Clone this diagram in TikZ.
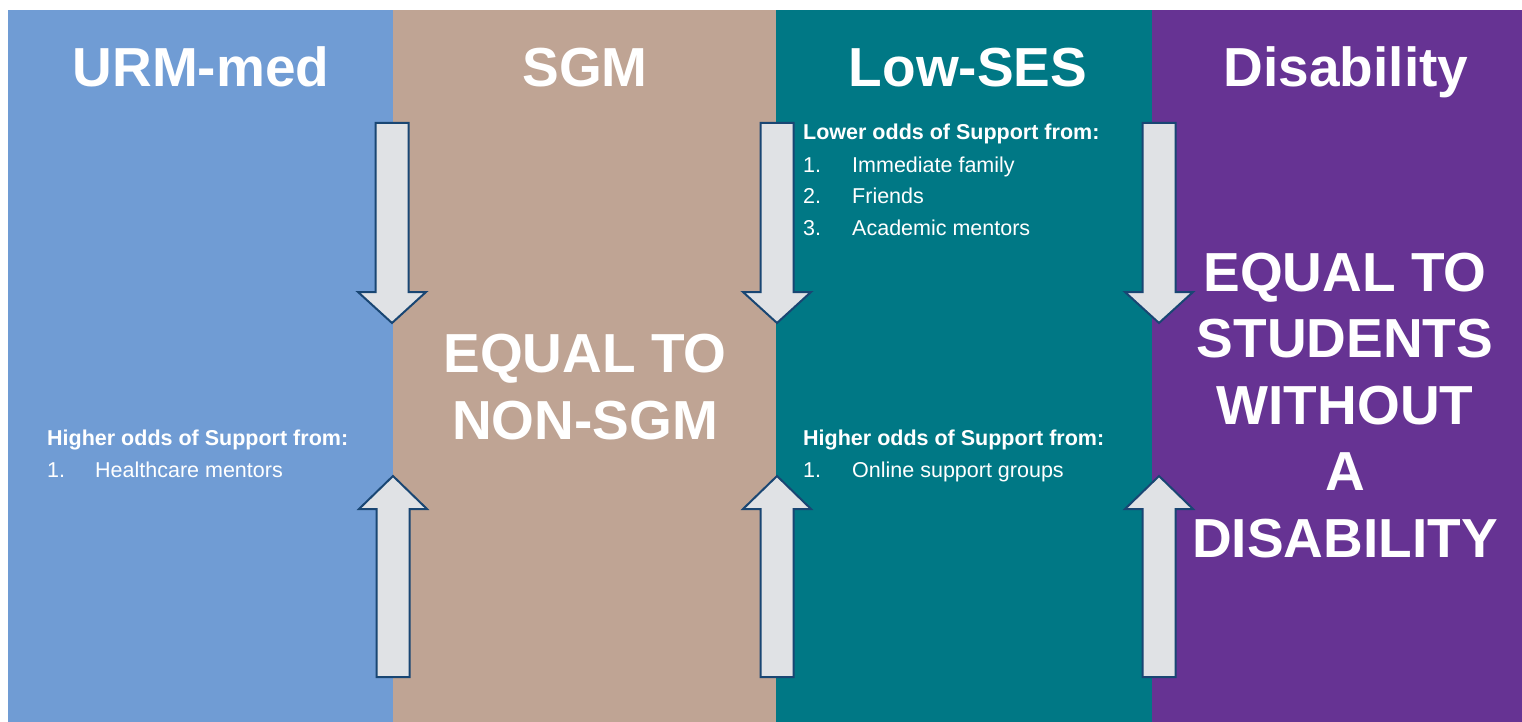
\documentclass[tikz,border=0pt]{standalone}
\usepackage{fontspec}
\setmainfont{Liberation Sans}
\usetikzlibrary{positioning}
\definecolor{urmblue}{RGB}{112,156,212}
\definecolor{sgmtan}{RGB}{191,164,148}
\definecolor{sesteal}{RGB}{0,120,133}
\definecolor{dispurple}{RGB}{102,51,147}
\definecolor{arrowgray}{RGB}{224,226,229}
\definecolor{arrowline}{RGB}{25,70,115}
\tikzset{
    column/.style={
                draw=none,
                inner sep=0pt,
                anchor=north west,
                minimum height=712pt
            },
        heading/.style={
                text=white,
                anchor=base,
                inner sep=0pt,
                font=\fontsize{55}{66}\selectfont\bfseries
            },
        verdict/.style={
                text=white,
                anchor=base,
                align=center,
                inner sep=0pt,
                font=\fontsize{55}{66.5}\selectfont\bfseries
            },
        listhead/.style={
                text=white,
                anchor=base west,
                inner sep=0pt,
                font=\fontsize{21.5}{26}\selectfont\bfseries
            },
        listitem/.style={
                text=white,
                anchor=base west,
                inner sep=0pt,
                font=\fontsize{21.5}{26}\selectfont
            },
        bigarrow/.style={
                fill=arrowgray,
                draw=arrowline,
                line width=2pt,
                line join=miter
            },
}

\begin{document}
\begin{tikzpicture}[x=1pt,y=-1pt]
  \useasboundingbox (0,0) rectangle (1522,722);
  % Columns
  \node[column,fill=urmblue,minimum width=385pt] (urm) at (8,10) {};
  \node[column,fill=sgmtan,minimum width=383pt] (sgm) at (393,10) {};
  \node[column,fill=sesteal,minimum width=376pt] (ses) at (776,10) {};
  \node[column,fill=dispurple,minimum width=370pt] (dis) at (1152,10) {};
  % Headings
  \node[heading] (urmtitle) at (201,87) {URM-med};
  \node[heading] (sgmtitle) at (585,87) {SGM};
  \node[heading] (sestitle) at (968,87) {Low-SES};
  \node[heading] (distitle) at (1346,87) {Disability};
  % Arrows down
  \draw[bigarrow] (375.5,123) -- ++(33,0) -- ++(0,169) -- ++(17.5,0) -- ++(-34,31) -- ++(-34,-31) -- ++(17.5,0) -- cycle;
  \draw[bigarrow] (760.5,123) -- ++(33,0) -- ++(0,169) -- ++(17.5,0) -- ++(-34,31) -- ++(-34,-31) -- ++(17.5,0) -- cycle;
  \draw[bigarrow] (1142.5,123) -- ++(33,0) -- ++(0,169) -- ++(17.5,0) -- ++(-34,31) -- ++(-34,-31) -- ++(17.5,0) -- cycle;
  % Arrows up
  \draw[bigarrow] (376.5,677) -- ++(33,0) -- ++(0,-168) -- ++(17.5,0) -- ++(-34,-33) -- ++(-34,33) -- ++(17.5,0) -- cycle;
  \draw[bigarrow] (760.5,677) -- ++(33,0) -- ++(0,-168) -- ++(17.5,0) -- ++(-34,-33) -- ++(-34,33) -- ++(17.5,0) -- cycle;
  \draw[bigarrow] (1142.5,677) -- ++(33,0) -- ++(0,-168) -- ++(17.5,0) -- ++(-34,-33) -- ++(-34,33) -- ++(17.5,0) -- cycle;
  % URM-med
  \node[listhead] (urmhigher) at (47,445) {Higher odds of Support from:};
  \node[listitem] (urmnum1) at (47,477) {1.};
  \node[listitem] (urmitem1) at (95,477) {Healthcare mentors};
  % SGM
  \node[verdict] (sgmequal) at (585,439) {EQUAL TO\\NON-SGM};
  % Low-SES
  \node[listhead] (seslower) at (803,140) {Lower odds of Support from:};
  \node[listitem] (sesnum1) at (803,173) {1.};
  \node[listitem] (sesitem1) at (852,173) {Immediate family};
  \node[listitem] (sesnum2) at (803,204) {2.};
  \node[listitem] (sesitem2) at (852,204) {Friends};
  \node[listitem] (sesnum3) at (803,235) {3.};
  \node[listitem] (sesitem3) at (852,235) {Academic mentors};
  \node[listhead] (seshigher) at (803,445) {Higher odds of Support from:};
  \node[listitem] (sesnum4) at (803,477) {1.};
  \node[listitem] (sesitem4) at (852,477) {Online support groups};
  % Disability
  \node[verdict] (disequal) at (1345,557) {EQUAL TO\\STUDENTS\\WITHOUT\\A\\DISABILITY};
\end{tikzpicture}
\end{document}
